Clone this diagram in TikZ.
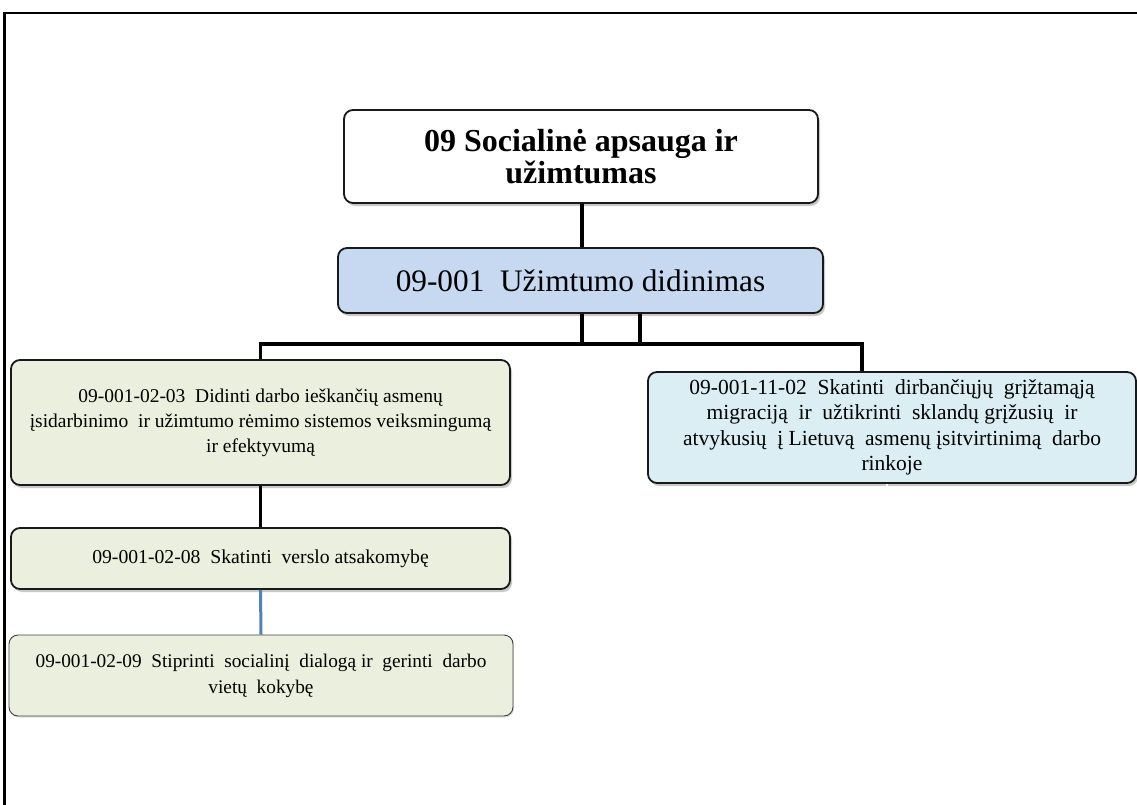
\documentclass[tikz,border=0pt]{standalone}
\usepackage{fontspec}
\setmainfont{Liberation Serif}
\usetikzlibrary{shadows}
\definecolor{gfill}{RGB}{235,239,222}
\definecolor{bfill}{RGB}{198,217,241}
\definecolor{rfill}{RGB}{218,238,243}
\definecolor{lnblue}{RGB}{79,129,189}
\tikzset{
  box/.style={draw=black!90, line width=1.8pt, rounded corners=9pt, align=center, inner sep=4pt,
    drop shadow={shadow xshift=2pt, shadow yshift=-3pt, opacity=0.35, fill=black!60}},
  thinbox/.style={draw=black!75, line width=0.9pt, rounded corners=9pt, align=center, inner sep=4pt,
    drop shadow={shadow xshift=1pt, shadow yshift=-1.5pt, opacity=0.25, fill=black!50}},
  conn/.style={line width=3.6pt, black},
  bconn/.style={line width=3pt, lnblue},
  frame/.style={line width=2.2pt, black}
}
\begin{document}
\begin{tikzpicture}[x=1pt,y=-1pt]
\useasboundingbox (0,0) rectangle (1137,805);
\fill[white] (0,0) rectangle (1137,805);
% frame
\coordinate (fc) at (4.5,13);
\draw[frame] (1137,13) -- (fc) -- (4.5,805);

\node[box, fill=white, minimum width=474pt, minimum height=93pt,
  font={\fontsize{32}{32}\selectfont\bfseries}]
  (top) at (581,156.5)
  {09 Socialinė apsauga ir\\ užimtumas};

\node[box, fill=bfill, minimum width=485pt, minimum height=65pt,
  font={\fontsize{31.3}{32}\selectfont}]
  (mid) at (580.5,280.5)
  {09-001\ \ Užimtumo didinimas};

\node[box, fill=gfill, minimum width=499pt, minimum height=125pt,
  font={\fontsize{19.5}{25}\selectfont}]
  (g1) at (260.5,422.5)
  {09-001-02-03\ \ Didinti darbo ieškančių asmenų\\
   įsidarbinimo\ \ ir užimtumo rėmimo sistemos veiksmingumą\\
   ir efektyvumą};

\node[box, fill=gfill, minimum width=499pt, minimum height=61pt,
  font={\fontsize{19.7}{25}\selectfont}]
  (g2) at (260.5,558.5)
  {09-001-02-08\ \ Skatinti\ \ verslo atsakomybę};

\node[thinbox, fill=gfill, minimum width=504pt, minimum height=81pt,
  font={\fontsize{19.3}{26}\selectfont}]
  (g3) at (261,675.5)
  {09-001-02-09\ \ Stiprinti\ \ socialinį\ \ dialogą ir\ \ gerinti\ \ darbo\\
   vietų\ \ kokybę};

\node[box, fill=rfill, minimum width=488pt, minimum height=111pt,
  font={\fontsize{21.5}{25.5}\selectfont}]
  (r) at (892,427.5)
  {09-001-11-02\ \ Skatinti\ \ dirbančiųjų\ \ grįžtamąją\\
   migraciją\ \ ir\ \ užtikrinti\ \ sklandų grįžusių\ \ ir\\
   atvykusių\ \ į Lietuvą\ \ asmenų įsitvirtinimą\ \ darbo\\
   rinkoje};

% connectors
\draw[conn] ([xshift=1pt]top.south) -- ([xshift=1.5pt]mid.north);
\draw[conn] ([xshift=59.5pt]mid.south) -- ++(0,30) -| (g1.north);
\draw[conn] ([xshift=1.5pt]mid.south) -- ++(0,30) -| ([xshift=-30pt]r.north);
\draw[conn] (g1.south) -- (g2.north);
\draw[bconn] (g2.south) -- (g3.north);
\coordinate (stub) at ([xshift=-5pt,yshift=-12pt]r.south);
\draw[white, line width=2pt] ([xshift=-5pt]r.south) -- (stub);
\end{tikzpicture}
\end{document}
